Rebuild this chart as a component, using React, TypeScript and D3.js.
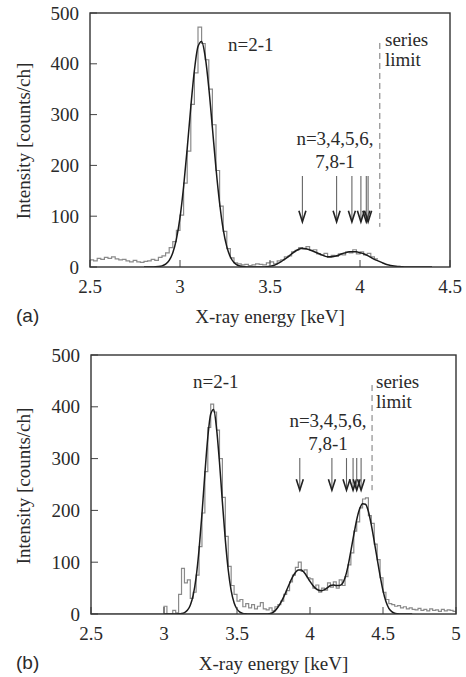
import React from 'react';
import * as d3 from 'd3';

const BIN = 0.02;

// ---------- Panel (a) ----------
const histAStart = 2.5;
const histA = [
  14, 12, 17, 15, 19, 17, 20, 16, 14, 15,
  12, 10, 13, 10, 9, 11, 12, 15, 13, 19,
  22, 28, 38, 50, 72, 102, 165, 228, 320, 382,
  472, 440, 408, 350, 280, 190, 120, 70, 36, 18,
  8, 6, 4, 5, 3, 4, 6, 5, 4, 8,
  10, 6, 12, 14, 20, 22, 30, 33, 38, 35,
  40, 33, 34, 26, 24, 27, 19, 23, 21, 26,
  24, 30, 28, 34, 26, 30, 24, 27, 20, 16,
];
const fitAStart = 2.8;
const fitA = [
  0, 0, 0, 0.3, 0.8, 2.2, 5.7, 13, 28, 55,
  97, 158, 233, 315, 387, 434, 444, 414, 353, 274,
  194, 126, 74, 40, 19.6, 8.7, 3.5, 1.3, 0.4, 0,
  0, 0, 0, 0, 0.5, 1.5, 3, 6, 10, 15,
  20, 26, 31, 35, 37, 36, 34, 31, 28, 25,
  22, 20, 20, 21, 23, 26, 28, 30, 30, 30,
  28, 26, 23, 19, 15, 12, 9, 6, 4, 2.5,
  1.5, 0.8, 0.3, 0, 0, 0, 0, 0, 0, 0, 0,
];
const arrowsA = [3.68, 3.87, 3.955, 4.005, 4.035, 4.045];
const limitA = 4.11;
const xTicksA = [2.5, 3, 3.5, 4, 4.5];

// ---------- Panel (b) ----------
const histBStart = 2.5;
const histB = [
  0, 0, 0, 0, 0, 0, 0, 0, 0, 0,
  0, 0, 0, 0, 0, 0, 0, 0, 0, 0,
  0, 0, 0, 0, 0,
  15, 0, 0, 7, 2, 38, 88, 60, 66, 30,
  42, 75, 130, 195, 275, 360, 405, 390, 355, 300,
  225, 150, 92, 55, 38, 25, 28, 14, 20, 12,
  18, 10, 15, 22, 10, 8, 12, 6, 14, 18,
  25, 38, 45, 62, 75, 90, 100, 82, 85, 70,
  68, 50, 56, 42, 50, 46, 60, 52, 62, 50,
  66, 55, 72, 95, 118, 160, 178, 205, 222, 224,
  190, 175, 135, 105, 70, 42, 28, 20, 18, 15,
  16, 12, 14, 10, 12, 9, 8, 11, 7, 9,
  6, 10, 7, 8, 5, 9, 6, 8, 7, 5,
];
const fitBStart = 3.0;
const fitB = [
  0, 0, 0, 0, 0, 0.3, 0.9, 2.7, 7.1, 17,
  36.5, 71, 124, 193, 271, 341, 386, 395, 358, 293,
  216, 143, 85, 45, 21.7, 9.3, 3.6, 1.2, 0.4, 0,
  0, 0, 0, 0, 0, 0, 0.5, 2, 6, 13,
  22, 33, 46, 59, 71, 80, 85, 85, 80, 72,
  63, 55, 49, 46, 45, 47, 51, 55, 56, 55,
  55, 58, 70, 92, 122, 153, 182, 203, 213, 212,
  198, 172, 140, 107, 74, 45, 24, 11, 4.5, 1.5,
  0.5, 0, 0, 0, 0, 0,
];
const arrowsB = [3.93, 4.15, 4.25, 4.295, 4.32, 4.35];
const limitB = 4.425;
const xTicksB = [2.5, 3, 3.5, 4, 4.5, 5];

const yTicks = [0, 100, 200, 300, 400, 500];

const SERIF = '"Liberation Serif", "Times New Roman", serif';
const SANS = '"Liberation Sans", Arial, sans-serif';
const TXT = '#2a2a2a';

type PanelProps = {
  tag: string;
  xDomain: [number, number];
  xPx: [number, number];
  yPx: [number, number];
  xTicks: number[];
  hist: number[];
  histStart: number;
  fit: number[];
  fitStart: number;
  arrows: number[];
  limit: number;
  limitCounts: [number, number];
  arrowCounts: [number, number];
  labelN21: [number, number];
  labelSeries: [number, number];
  labelN3: [number, number];
  xTitleY: number;
  tickLabelY: number;
  yTitleY: number;
  id: string;
};

function Panel(p: PanelProps) {
  const x = d3.scaleLinear().domain(p.xDomain).range(p.xPx);
  const y = d3.scaleLinear().domain([0, 500]).range(p.yPx);
  const [x0, x1] = p.xPx;
  const [yb, yt] = p.yPx;

  const histPts: [number, number][] = p.hist.map((v, i) => [p.histStart + i * BIN, v]);
  histPts.push([p.histStart + p.hist.length * BIN, p.hist[p.hist.length - 1]]);
  const histPath = d3
    .line<[number, number]>()
    .x((d) => x(d[0]))
    .y((d) => y(d[1]))
    .curve(d3.curveStepAfter)(histPts) as string;

  const fitPts: [number, number][] = p.fit.map((v, i) => [p.fitStart + i * BIN, v]);
  const fitPath = d3
    .line<[number, number]>()
    .x((d) => x(d[0]))
    .y((d) => y(d[1]))
    .curve(d3.curveMonotoneX)(fitPts) as string;

  const ay1 = y(p.arrowCounts[0]);
  const ay2 = y(p.arrowCounts[1]);

  return (
    <g>
      <defs>
        <clipPath id={p.id}>
          <rect x={x0} y={yt} width={x1 - x0} height={yb - yt} />
        </clipPath>
      </defs>
      <g clipPath={`url(#${p.id})`}>
        <path d={histPath} fill="none" stroke="#8a8a8a" strokeWidth={1.2} />
        <path d={fitPath} fill="none" stroke="#1a1a1a" strokeWidth={1.5} />
      </g>
      {/* ticks */}
      {p.xTicks.map((t) => (
        <g key={'xt' + t}>
          <line x1={x(t)} x2={x(t)} y1={yb} y2={yb - 7} stroke="#444" strokeWidth={1} />
          <text
            x={x(t)}
            y={p.tickLabelY}
            textAnchor="middle"
            fontFamily={SERIF}
            fontSize={19}
            fill={TXT}
          >
            {String(t)}
          </text>
        </g>
      ))}
      {yTicks.map((t) => (
        <g key={'yt' + t}>
          <line x1={x0} x2={x0 + 7} y1={y(t)} y2={y(t)} stroke="#444" strokeWidth={1} />
          <text
            x={x0 - 11}
            y={y(t)}
            dy="0.35em"
            textAnchor="end"
            fontFamily={SERIF}
            fontSize={19}
            fill={TXT}
          >
            {String(t)}
          </text>
        </g>
      ))}
      <rect
        x={x0}
        y={yt}
        width={x1 - x0}
        height={yb - yt}
        fill="none"
        stroke="#333"
        strokeWidth={1.4}
      />
      {/* series limit */}
      <line
        x1={x(p.limit)}
        x2={x(p.limit)}
        y1={y(p.limitCounts[0])}
        y2={y(p.limitCounts[1])}
        stroke="#777"
        strokeWidth={1}
        strokeDasharray="6,4"
      />
      {/* arrows */}
      {p.arrows.map((a, i) => (
        <g key={'ar' + i}>
          <line x1={x(a)} x2={x(a)} y1={ay1} y2={ay2} stroke="#666" strokeWidth={1.1} />
          <path
            d={`M${x(a) - 3.5},${ay2 - 11} L${x(a)},${ay2} L${x(a) + 3.5},${ay2 - 11}`}
            fill="none"
            stroke="#222"
            strokeWidth={1.6}
          />
        </g>
      ))}
      {/* annotations */}
      <text x={p.labelN21[0]} y={p.labelN21[1]} fontFamily={SERIF} fontSize={19} fill={TXT}>
        n=2-1
      </text>
      <text x={p.labelSeries[0]} y={p.labelSeries[1]} fontFamily={SERIF} fontSize={19} fill={TXT}>
        series
      </text>
      <text x={p.labelSeries[0]} y={p.labelSeries[1] + 20} fontFamily={SERIF} fontSize={19} fill={TXT}>
        limit
      </text>
      <text
        x={p.labelN3[0]}
        y={p.labelN3[1]}
        textAnchor="middle"
        fontFamily={SERIF}
        fontSize={19}
        fill={TXT}
      >
        n=3,4,5,6,
      </text>
      <text
        x={p.labelN3[0]}
        y={p.labelN3[1] + 23}
        textAnchor="middle"
        fontFamily={SERIF}
        fontSize={19}
        fill={TXT}
      >
        7,8-1
      </text>
      {/* axis titles */}
      <text
        x={(x0 + x1) / 2}
        y={p.xTitleY}
        textAnchor="middle"
        fontFamily={SERIF}
        fontSize={19}
        fill={TXT}
      >
        X-ray energy [keV]
      </text>
      <text
        transform={`translate(30,${p.yTitleY}) rotate(-90)`}
        textAnchor="middle"
        fontFamily={SERIF}
        fontSize={19}
        fill={TXT}
      >
        Intensity [counts/ch]
      </text>
      <text x={16} y={p.xTitleY - 1} fontFamily={SANS} fontSize={19} fill={TXT}>
        {p.tag}
      </text>
    </g>
  );
}

export default function App() {
  return (
    <svg
      width={466}
      height={677}
      style={{ position: 'absolute', left: 0, top: 0, background: '#fff' }}
    >
      <rect x={0} y={0} width={466} height={677} fill="#fff" />
      <Panel
        id="clipA"
        tag="(a)"
        xDomain={[2.5, 4.5]}
        xPx={[90, 450]}
        yPx={[267, 13]}
        xTicks={xTicksA}
        hist={histA}
        histStart={histAStart}
        fit={fitA}
        fitStart={fitAStart}
        arrows={arrowsA}
        limit={limitA}
        limitCounts={[441, 79]}
        arrowCounts={[179, 89]}
        labelN21={[228, 51]}
        labelSeries={[385, 46]}
        labelN3={[335, 145]}
        xTitleY={323}
        tickLabelY={293}
        yTitleY={141}
      />
      <Panel
        id="clipB"
        tag="(b)"
        xDomain={[2.5, 5]}
        xPx={[91, 456]}
        yPx={[614, 355]}
        xTicks={xTicksB}
        hist={histB}
        histStart={histBStart}
        fit={fitB}
        fitStart={fitBStart}
        arrows={arrowsB}
        limit={limitB}
        limitCounts={[442, 239]}
        arrowCounts={[301, 239]}
        labelN21={[193, 388]}
        labelSeries={[376, 388]}
        labelN3={[328, 427]}
        xTitleY={670}
        tickLabelY={640}
        yTitleY={486}
      />
    </svg>
  );
}
